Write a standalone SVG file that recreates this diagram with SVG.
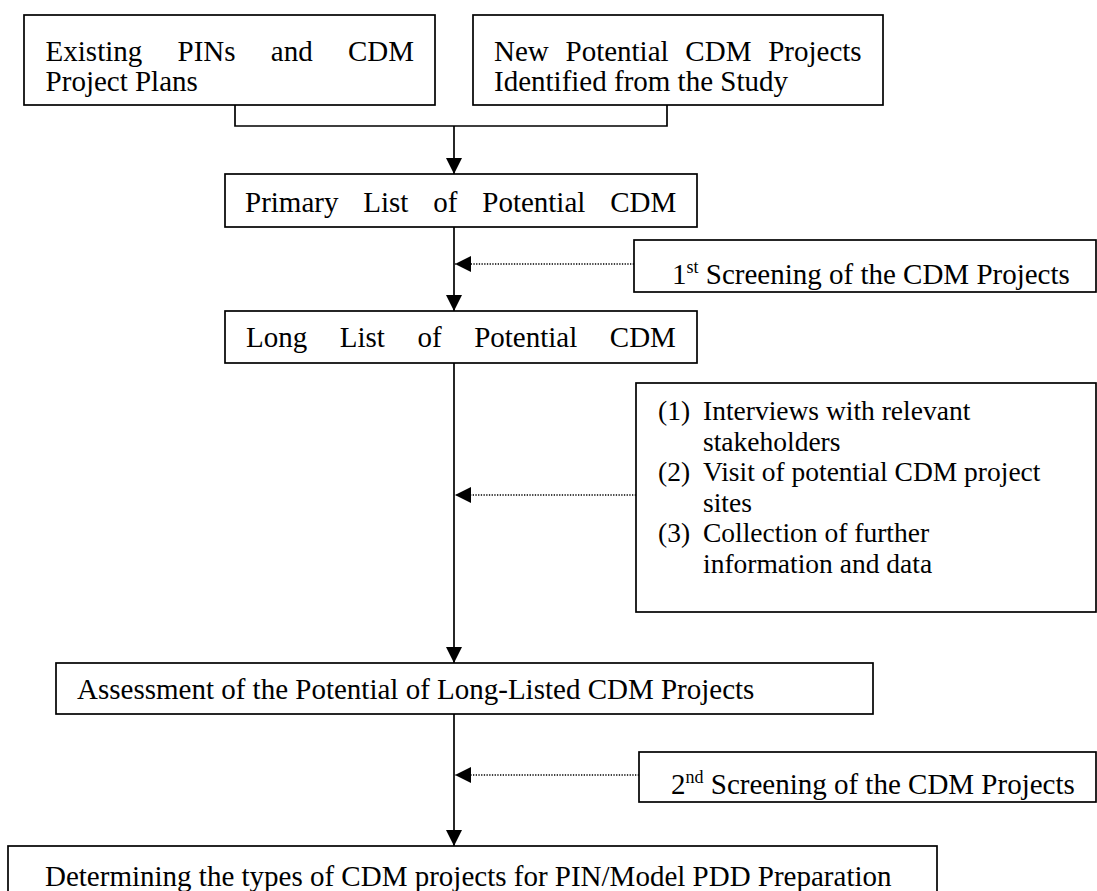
<svg xmlns="http://www.w3.org/2000/svg" width="1097" height="891" viewBox="0 0 1097 891">
  <style>
    .box { fill: #ffffff; stroke: #000000; stroke-width: 1.7; }
    .t { font-family: "Liberation Serif", "Times New Roman", serif; font-size: 29px; fill: #000000; }
    .list { font-size: 27.5px; }
    .sup { font-size: 18px; }
    .solid { fill: none; stroke: #000000; stroke-width: 1.7; }
    .dot { fill: none; stroke: #000000; stroke-width: 1.3; stroke-dasharray: 1.3 1.4; }
  </style>
  <defs>
    <marker id="arrDown" markerWidth="16" markerHeight="17" refX="8" refY="16" orient="0" markerUnits="userSpaceOnUse">
      <path d="M0,0 L16,0 L8,16 Z" fill="#000000"/>
    </marker>
    <marker id="arrLeft" markerWidth="17" markerHeight="16" refX="0" refY="8" orient="0" markerUnits="userSpaceOnUse">
      <path d="M0,8 L16,0 L16,16 Z" fill="#000000"/>
    </marker>
  </defs>
  <rect x="0" y="0" width="1097" height="891" fill="#ffffff"/>

  <g id="connectors">
    <path class="solid" d="M235,105 V126 H667 V105"/>
    <line class="solid" x1="454" y1="126" x2="454" y2="174" marker-end="url(#arrDown)"/>
    <line class="solid" x1="454" y1="227" x2="454" y2="311" marker-end="url(#arrDown)"/>
    <line class="dot" x1="634" y1="264" x2="455" y2="264" marker-end="url(#arrLeft)"/>
    <line class="solid" x1="454" y1="363" x2="454" y2="663" marker-end="url(#arrDown)"/>
    <line class="dot" x1="636" y1="495" x2="455" y2="495" marker-end="url(#arrLeft)"/>
    <line class="solid" x1="454" y1="714" x2="454" y2="846" marker-end="url(#arrDown)"/>
    <line class="dot" x1="639" y1="775" x2="455" y2="775" marker-end="url(#arrLeft)"/>
  </g>

  <g id="node-existing">
    <rect class="box" x="24" y="15" width="411" height="90"/>
    <text class="t"><tspan x="45.6" y="61" style="word-spacing:28px">Existing PINs and CDM</tspan><tspan x="45.6" y="91">Project Plans</tspan></text>
  </g>

  <g id="node-new">
    <rect class="box" x="473" y="15" width="410" height="90"/>
    <text class="t"><tspan x="494" y="61" style="word-spacing:9.5px">New Potential CDM Projects</tspan><tspan x="494" y="91">Identified from the Study</tspan></text>
  </g>

  <g id="node-primary">
    <rect class="box" x="225" y="174" width="472" height="53"/>
    <text class="t" x="245" y="212" style="word-spacing:17.6px">Primary List of Potential CDM</text>
  </g>

  <g id="node-screen1">
    <rect class="box" x="634" y="240" width="462" height="52"/>
    <text class="t" x="672" y="284">1<tspan class="sup" dy="-11">st</tspan><tspan dy="11"> Screening of the CDM Projects</tspan></text>
  </g>

  <g id="node-long">
    <rect class="box" x="225" y="311" width="472" height="52"/>
    <text class="t" x="246" y="347" style="word-spacing:25.3px">Long List of Potential CDM</text>
  </g>

  <g id="node-activities">
    <rect class="box" x="636" y="383" width="460" height="229"/>
    <text class="t list"><tspan x="658" y="420">(1)</tspan><tspan x="703" y="420">Interviews with relevant</tspan><tspan x="703" y="450.5">stakeholders</tspan><tspan x="658" y="481">(2)</tspan><tspan x="703" y="481">Visit of potential CDM project</tspan><tspan x="703" y="511.5">sites</tspan><tspan x="658" y="542">(3)</tspan><tspan x="703" y="542">Collection of further</tspan><tspan x="703" y="572.5">information and data</tspan></text>
  </g>

  <g id="node-assessment">
    <rect class="box" x="56" y="663" width="817" height="51"/>
    <text class="t" x="77" y="699">Assessment of the Potential of Long-Listed CDM Projects</text>
  </g>

  <g id="node-screen2">
    <rect class="box" x="639" y="752" width="457" height="50"/>
    <text class="t" x="671" y="794">2<tspan class="sup" dy="-11">nd</tspan><tspan dy="11"> Screening of the CDM Projects</tspan></text>
  </g>

  <g id="node-determining">
    <rect class="box" x="8" y="846" width="929" height="60"/>
    <text class="t" x="45" y="886">Determining the types of CDM projects for PIN/Model PDD Preparation</text>
  </g>
</svg>
